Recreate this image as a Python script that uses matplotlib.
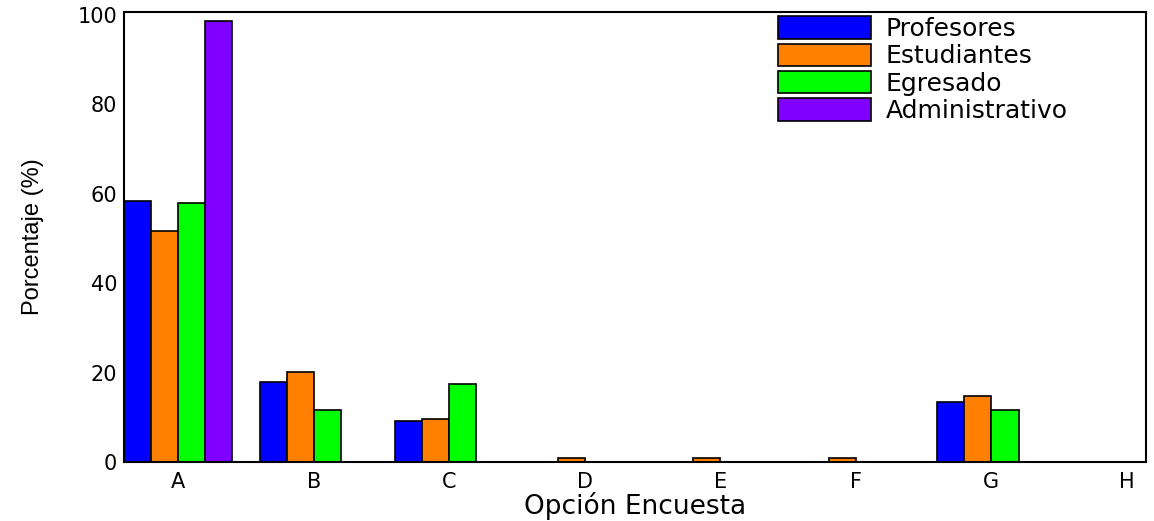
import numpy as np
import matplotlib
matplotlib.use("Agg")
import matplotlib.pyplot as plt

categories = ["A", "B", "C", "D", "E", "F", "G", "H"]
series_names = ["Profesores", "Estudiantes", "Egresado", "Administrativo"]
profesores = [58.4, 18.0, 9.1, 0, 0, 0, 13.5, 0]
estudiantes = [51.7, 20.1, 9.6, 1.0, 1.0, 1.0, 14.7, 0]
egresado = [58.0, 11.7, 17.5, 0, 0, 0, 11.7, 0]
administrativo = [98.7, 0, 0, 0, 0, 0, 0, 0]
colors = ["#0000ff", "#ff8000", "#00ff00", "#8000ff"]
yticks = [0, 20, 40, 60, 80, 100]

fig = plt.figure(figsize=(11.54, 5.21), dpi=100)
ax = fig.add_axes([0.1075, 0.1132, 0.8855, 0.864])

x = np.arange(len(categories))
w = 0.2
data = [profesores, estudiantes, egresado, administrativo]
for i, (vals, name, c) in enumerate(zip(data, series_names, colors)):
    ax.bar(x + (i - 1.5) * w, vals, width=w, color=c, edgecolor="black",
           linewidth=1.2, label=name)

ax.set_xlim(-0.4, 7.14)
ax.set_ylim(0, 100.7)
ax.set_xticks(x)
ax.set_xticklabels(categories, fontsize=15, family="DejaVu Sans")
ax.set_yticks(yticks)
ax.set_yticklabels([str(t) for t in yticks], fontsize=15, family="DejaVu Sans")
ax.tick_params(length=0)
ax.tick_params(axis="x", pad=7)
ax.tick_params(axis="y", pad=5)
for s in ax.spines.values():
    s.set_linewidth(1.5)
ax.set_xlabel("Opción Encuesta", fontsize=19, family="DejaVu Sans", labelpad=0)
ax.set_ylabel("Porcentaje (%)", fontsize=17,
              family="Liberation Sans", labelpad=24)

leg = ax.legend(loc="upper left", bbox_to_anchor=(0.64, 0.99), frameon=False,
                fontsize=18, handlelength=3.7, handleheight=1.0,
                labelspacing=0.1, handletextpad=0.6, borderaxespad=0.0,
                borderpad=0.0)

fig.savefig("out.png", dpi=100)
